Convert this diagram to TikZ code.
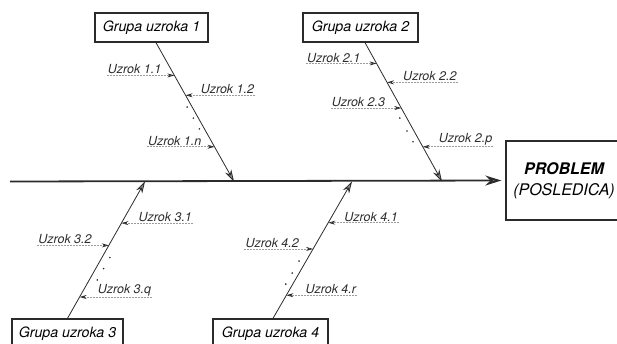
\documentclass[tikz,border=0pt]{standalone}
\usepackage{fontspec}
\setmainfont{TeX Gyre Heros}
\usepackage{tikz}
\usetikzlibrary{positioning,arrows.meta,calc}
\definecolor{ink}{HTML}{2B2B2B}
\definecolor{tipgray}{HTML}{8C8C8C}
\definecolor{dashgray}{HTML}{9C9C9C}

\begin{document}
\begin{tikzpicture}[x=1pt, y=-1pt,
  group/.style={draw=ink, line width=1.3pt, minimum height=29pt, inner sep=2pt,
    font=\fontsize{14.2}{16}\selectfont\itshape},
  cause/.style={inner sep=1pt, text=ink, font=\fontsize{12.5}{14}\selectfont\itshape},
  bone/.style={draw=ink, line width=0.8pt, -{Stealth[length=12pt,width=7pt,color=ink,fill=tipgray]}},
  spine/.style={draw=ink, line width=1.8pt, shorten >=4pt, -{Stealth[length=16pt,width=10pt,color=ink,fill=tipgray]}},
  causearrow/.style={draw=dashgray, line width=0.6pt, dash pattern=on 2pt off 1pt,
    -{Stealth[length=7pt,width=4pt,color=ink,fill=tipgray]}}]
  \useasboundingbox (0,0) rectangle (617,344);

  % head and groups
  \node[draw=ink, line width=1.3pt, minimum width=116pt, minimum height=79pt, align=center,
    font=\fontsize{16}{21}\selectfont\itshape] (prob) at (564,180.5) {\textbf{PROBLEM}\\(POSLEDICA)};
  \node[group, minimum width=113pt] (g1) at (151.5,27.5) {Grupa uzroka 1};
  \node[group, minimum width=115pt] (g2) at (360.5,27.5) {Grupa uzroka 2};
  \node[group, minimum width=111pt] (g3) at (67.5,333.5) {Grupa uzroka 3};
  \node[group, minimum width=115pt] (g4) at (270.5,333.5) {Grupa uzroka 4};

  % spine and bones
  \coordinate (tail) at (10,181.5);
  \foreach \b/\x in {1/234,2/442,3/145,4/352} {
    \coordinate (s\b) at (\x,181.5);
  }
  \coordinate (r1) at ([xshift=4.5pt]g1.south);
  \coordinate (r2) at ([xshift=4.5pt]g2.south);
  \coordinate (r3) at (g3.north);
  \coordinate (r4) at ([xshift=2.5pt]g4.north);
  \draw[spine] (tail) -- (prob.west);
  \foreach \b in {1,2,3,4} {
    \draw[bone] (r\b) -- (s\b);
  }

  % causes, group 1
  \coordinate (b11) at ($(r1)!0.236!(s1)$);
  \coordinate (b12) at ($(r1)!0.379!(s1)$);
  \coordinate (b1n) at ($(r1)!0.75!(s1)$);
  \node[cause, anchor=south east] (c11) at ([xshift=-12pt]b11) {Uzrok 1.1};
  \node[cause, anchor=south west] (c12) at ([xshift=14pt]b12) {Uzrok 1.2};
  \node[cause, anchor=south east] (c1n) at ([xshift=-12pt]b1n) {Uzrok 1.n};
  \draw[causearrow] (c11.south west) -- (b11);
  \draw[causearrow] (c12.south east) -- (b12);
  \draw[causearrow] (c1n.south west) -- (b1n);

  % causes, group 2
  \coordinate (b21) at ($(r2)!0.15!(s2)$);
  \coordinate (b22) at ($(r2)!0.286!(s2)$);
  \coordinate (b23) at ($(r2)!0.471!(s2)$);
  \coordinate (b2p) at ($(r2)!0.75!(s2)$);
  \node[cause, anchor=south east] (c21) at ([xshift=-15pt]b21) {Uzrok 2.1};
  \node[cause, anchor=south west] (c22) at ([xshift=15pt]b22) {Uzrok 2.2};
  \node[cause, anchor=south east] (c23) at ([xshift=-15pt]b23) {Uzrok 2.3};
  \node[cause, anchor=south west] (c2p) at ([xshift=15pt]b2p) {Uzrok 2.p};
  \draw[causearrow] (c21.south west) -- (b21);
  \draw[causearrow] (c22.south east) -- (b22);
  \draw[causearrow] (c23.south west) -- (b23);
  \draw[causearrow] (c2p.south east) -- (b2p);

  % causes, group 3
  \coordinate (b31) at ($(r3)!0.696!(s3)$);
  \coordinate (b32) at ($(r3)!0.533!(s3)$);
  \coordinate (b3q) at ($(r3)!0.156!(s3)$);
  \node[cause, anchor=south west] (c31) at ([xshift=16pt]b31) {Uzrok 3.1};
  \node[cause, anchor=south east] (c32) at ([xshift=-16pt]b32) {Uzrok 3.2};
  \node[cause, anchor=south west] (c3q) at ([xshift=17pt]b3q) {Uzrok 3.q};
  \draw[causearrow] (c31.south east) -- (b31);
  \draw[causearrow] (c32.south west) -- (b32);
  \draw[causearrow] (c3q.south east) -- (b3q);

  % causes, group 4
  \coordinate (b41) at ($(r4)!0.699!(s4)$);
  \coordinate (b42) at ($(r4)!0.507!(s4)$);
  \coordinate (b4r) at ($(r4)!0.169!(s4)$);
  \node[cause, anchor=south west] (c41) at ([xshift=15pt]b41) {Uzrok 4.1};
  \node[cause, anchor=south east] (c42) at ([xshift=-13pt]b42) {Uzrok 4.2};
  \node[cause, anchor=south west] (c4r) at ([xshift=18pt]b4r) {Uzrok 4.r};
  \draw[causearrow] (c41.south east) -- (b41);
  \draw[causearrow] (c42.south west) -- (b42);
  \draw[causearrow] (c4r.south east) -- (b4r);

  % dots for the omitted causes
  \foreach \t in {0.464,0.543,0.621} \fill[ink] ($(r1)!\t!(s1)+(-5,0)$) circle (0.9pt);
  \foreach \t in {0.543,0.636,0.714} \fill[ink] ($(r2)!\t!(s2)+(-7,0)$) circle (0.9pt);
  \foreach \t in {0.444,0.363,0.281} \fill[ink] ($(r3)!\t!(s3)+(8,0)$) circle (0.9pt);
  \foreach \t in {0.419,0.331,0.25} \fill[ink] ($(r4)!\t!(s4)+(-7,0)$) circle (0.9pt);
\end{tikzpicture}
\end{document}
